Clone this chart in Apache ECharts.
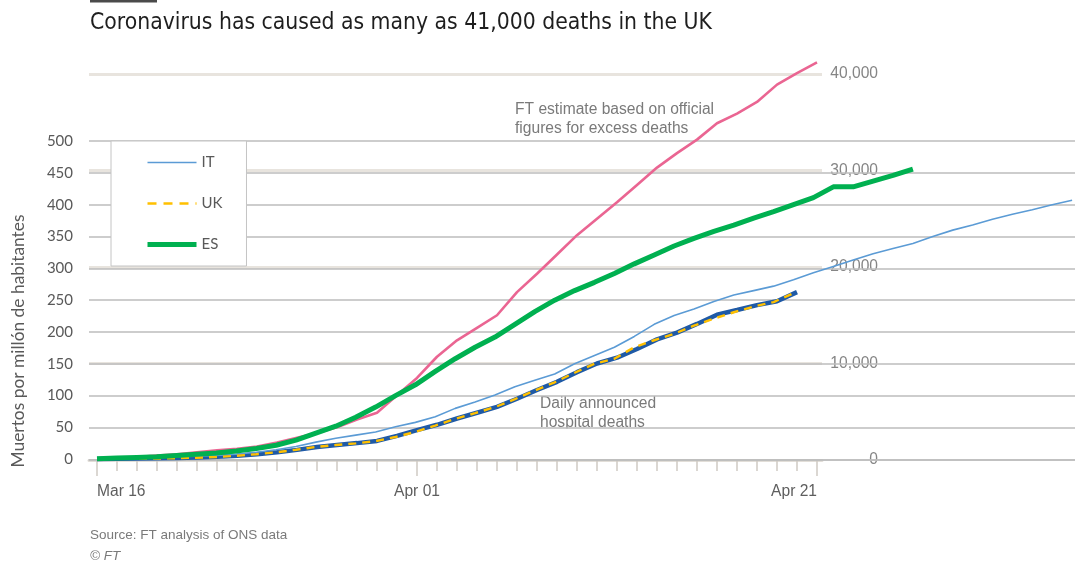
<!DOCTYPE html>
<html><head><meta charset="utf-8">
<script src="https://cdn.jsdelivr.net/npm/echarts@6/dist/echarts.min.js"></script>
<style>html,body{margin:0;padding:0;background:#fff}#c{width:1075px;height:563px}</style>
</head><body><div id="c"></div>
<script>
// ---------- data ----------
const titleText = 'Coronavirus has caused as many as 41,000 deaths in the UK';
const sourceText = 'Source: FT analysis of ONS data';
const copyrightText = '\u00a9 FT';
const yAxisNameES = 'Muertos por millón de habitantes';
const noteEstimate = ['FT estimate based on official', 'figures for excess deaths'];
const noteHospital = ['Daily announced', 'hospital deaths'];

// FT chart: day 0 = Mar 16
const ftTickDays = Array.from({length: 37}, (_, i) => i);
const ftLabelDays = [0, 16, 36];
const ftLabels = ['Mar 16', 'Apr 01', 'Apr 21'];
const ftYTicks = [0, 10000, 20000, 30000, 40000];
const ftEstimate = [100,200,300,450,600,800,1000,1150,1400,1800,2300,2800,3400,4200,4900,6700,8500,10700,12400,13700,15000,17400,19300,21300,23300,25000,26700,28500,30300,31800,33200,34900,35900,37100,38900,40100,41200];
const ftHospital = [100,120,150,170,200,260,330,450,600,800,1050,1350,1550,1750,1980,2500,3100,3650,4300,4900,5500,6350,7250,8100,9100,10000,10600,11500,12500,13200,14100,15050,15540,16050,16450,17400];

// Spanish chart (per million)
const esYTicks = [0,50,100,150,200,250,300,350,400,450,500];
const seriesNames = ['IT', 'UK', 'ES'];
const itPerMillion = [1,1.5,2,3,4,5,6,8,11,15,20,27,33,38,43,51,58,67,80,90,101,114,124,134,150,163,176,193,212,226,236,248,258,265,272,282,293,303,313,323,331,339,350,360,368,377,385,392,400,407];
const ukPerMillion = [0.5,0.8,1,1.3,1.6,2.5,3.5,5.5,8,11,15,19.5,22.5,25,28.5,35,43,53,63.5,72.5,82,94.5,108,121,136,150,158,176,187,197,210,221,231,240,247,261];
const esPerMillion = [1,2,3,4,6,8,10,13,17,22,30,41,52,66,82,100,117,138,158,176,192,212,232,250,265,278,292,307,321,335,347,358,368,379,389,400,411,428,428,437,446,456];

// ---------- helpers ----------
const FT_FONT = '"Liberation Sans", Arial, sans-serif';
const TITLE_FONT = '"Liberation Sans Narrow", "DejaVu Sans Condensed", "Liberation Sans", sans-serif';
const ES_FONT = 'Lato, "Open Sans", sans-serif';
const mctx = document.createElement('canvas').getContext('2d');
function textW(t, size, fam) { mctx.font = size + 'px ' + fam; return mctx.measureText(t).width; }
function fitSize(t, fam, w) { return 100 * w / textW(t, 100, fam); }
const toPairs = arr => arr.map((v, i) => [i, v]);

const titleSize = Math.min(26, fitSize(titleText, TITLE_FONT, 622));
const ftLabelSize = 15.6;
const esNameSize = fitSize(yAxisNameES, ES_FONT, 253);
const esLabelSize = 15;

const FT_PX = 20, ES_PX = 19.9, X0 = 97, GL = 89;

const chart = echarts.init(document.getElementById('c'), null, {renderer: 'canvas'});
const firstW = textW(ftLabels[0], ftLabelSize, FT_FONT);
const lastW = textW(ftLabels[ftLabels.length - 1], ftLabelSize, FT_FONT);

chart.setOption({
  animation: false,
  backgroundColor: '#fff',
  grid: [
    {left: GL, top: 74, width: 733, height: 386},
    {left: GL, top: 141, width: 1075 - GL, height: 318.3}
  ],
  xAxis: [
    { type: 'value', gridIndex: 0, min: (GL - X0) / FT_PX, max: (GL + 733 - X0) / FT_PX, z: 0,
      axisLine: {show: true, lineStyle: {color: '#e2ded8', width: 3}},
      axisTick: {show: true, customValues: ftTickDays, length: 11, lineStyle: {color: '#cfcac4', width: 1.5}},
      axisLabel: {show: true, customValues: ftLabelDays, margin: 24, color: '#5e5e5e',
        fontFamily: FT_FONT, fontSize: ftLabelSize,
        formatter: v => {
          const i = ftLabelDays.indexOf(v);
          if (i === 0) return '{l|' + ftLabels[i] + '}';
          if (i === ftLabels.length - 1) return '{r|' + ftLabels[i] + '}';
          return ftLabels[i];
        },
        rich: {
          l: {padding: [0, 0, 0, firstW], fontFamily: FT_FONT, fontSize: ftLabelSize, color: '#5e5e5e'},
          r: {padding: [0, lastW, 0, 0], fontFamily: FT_FONT, fontSize: ftLabelSize, color: '#5e5e5e'}
        }},
      splitLine: {show: false}
    },
    { type: 'value', gridIndex: 0, position: 'bottom', min: (GL - X0) / FT_PX, max: (GL + 733 - X0) / FT_PX, z: 0,
      axisLine: {show: false},
      axisTick: {show: true, customValues: ftLabelDays, length: 16, lineStyle: {color: '#cfcac4', width: 1.5}},
      axisLabel: {show: false}, splitLine: {show: false}
    },
    { type: 'value', gridIndex: 1, min: (GL - X0) / ES_PX, max: (1075 - X0) / ES_PX, z: 1,
      axisLine: {show: true, lineStyle: {color: '#bdbdbd', width: 1.5}},
      axisTick: {show: false}, axisLabel: {show: false}, splitLine: {show: false}
    }
  ],
  yAxis: [
    { type: 'value', gridIndex: 0, position: 'right', min: 0, max: 40000, interval: 10000, z: 0,
      axisLine: {show: false}, axisTick: {show: false},
      axisLabel: {show: true, align: 'right', margin: 56, color: '#858585', fontFamily: FT_FONT, fontSize: 15.6,
        padding: [4, 0, 0, 0],
        formatter: v => ftYTicks.includes(v) ? v.toLocaleString('en-US') : ''},
      splitLine: {show: true, lineStyle: {color: '#e8e4de', width: 3}}
    },
    { type: 'value', gridIndex: 1, min: 0, max: 500, interval: 50, z: 1,
      axisLine: {show: false}, axisTick: {show: false},
      axisLabel: {show: true, margin: 16, color: '#595959', fontFamily: ES_FONT, fontSize: esLabelSize,
        formatter: v => esYTicks.includes(v) ? String(v) : ''},
      splitLine: {show: true, lineStyle: {color: '#bdbdbd', width: 1.5}}
    }
  ],
  legend: {
    data: [
      {name: 'IT', lineStyle: {width: 1.5}},
      {name: 'UK', lineStyle: {width: 2.5, type: [9, 7]}},
      {name: 'ES', lineStyle: {width: 5}}
    ],
    orient: 'vertical', left: 111, top: 141,
    padding: [14, 24, 14, 34], itemWidth: 49, itemHeight: 14, itemGap: 26,
    backgroundColor: '#fff', borderColor: '#c4c4c4', borderWidth: 1, borderRadius: 0,
    itemStyle: {opacity: 0},
    textStyle: {color: '#595959', fontFamily: ES_FONT, fontSize: esLabelSize},
    selectedMode: false
  },
  series: [
    { name: 'FT estimate', type: 'line', xAxisIndex: 0, yAxisIndex: 0, data: toPairs(ftEstimate), clip: false,
      symbol: 'none', z: 2, lineStyle: {color: '#ea6592', width: 2.6}, itemStyle: {color: '#ea6592'} },
    { name: 'Hospital', type: 'line', xAxisIndex: 0, yAxisIndex: 0, data: toPairs(ftHospital),
      symbol: 'none', z: 3, lineStyle: {color: '#1f5aa6', width: 4.5}, itemStyle: {color: '#1f5aa6'} },
    { name: 'IT', type: 'line', xAxisIndex: 2, yAxisIndex: 1, data: toPairs(itPerMillion),
      symbol: 'none', z: 4, lineStyle: {color: '#5b9bd5', width: 1.6}, itemStyle: {color: '#5b9bd5'} },
    { name: 'UK', type: 'line', xAxisIndex: 2, yAxisIndex: 1, data: toPairs(ukPerMillion),
      symbol: 'none', z: 5, lineStyle: {color: '#ffc000', width: 2.4, type: [8, 6]}, itemStyle: {color: '#ffc000'} },
    { name: 'ES', type: 'line', xAxisIndex: 2, yAxisIndex: 1, data: toPairs(esPerMillion),
      symbol: 'none', z: 6, lineStyle: {color: '#00b050', width: 5}, itemStyle: {color: '#00b050'} }
  ],
  graphic: [
    {type: 'rect', z: 10, shape: {x: 90, y: 0, width: 67, height: 2.5}, style: {fill: '#4a4a4a'}},
    {type: 'text', z: 10, x: 90, y: 23, style: {text: titleText, fontFamily: TITLE_FONT, fontSize: titleSize,
      fill: '#1e1e1e', align: 'left', verticalAlign: 'middle'}},
    {type: 'text', z: 10, x: 90, y: 535, style: {text: sourceText, fontFamily: FT_FONT, fontSize: 13.5,
      fill: '#7a7a7a', align: 'left', verticalAlign: 'middle'}},
    {type: 'text', z: 10, x: 90, y: 556, style: {text: copyrightText, fontFamily: FT_FONT, fontSize: 13.5,
      fontStyle: 'italic', fill: '#7a7a7a', align: 'left', verticalAlign: 'middle'}},
    {type: 'text', z: 10, x: 18, y: 341, rotation: Math.PI / 2, style: {text: yAxisNameES, fontFamily: ES_FONT,
      fontSize: esNameSize, fill: '#595959', align: 'center', verticalAlign: 'middle'}},
    {type: 'text', z: 1, x: 515, y: 110, style: {text: noteEstimate[0], fontFamily: FT_FONT, fontSize: 15.6,
      fill: '#7a7a7a', align: 'left', verticalAlign: 'middle'}},
    {type: 'text', z: 1, x: 515, y: 129, style: {text: noteEstimate[1], fontFamily: FT_FONT, fontSize: 15.6,
      fill: '#7a7a7a', align: 'left', verticalAlign: 'middle'}},
    {type: 'text', z: 1, x: 540, y: 404, style: {text: noteHospital[0], fontFamily: FT_FONT, fontSize: 15.6,
      fill: '#7a7a7a', align: 'left', verticalAlign: 'middle'}},
    {type: 'text', z: 1, x: 540, y: 423, style: {text: noteHospital[1], fontFamily: FT_FONT, fontSize: 15.6,
      fill: '#7a7a7a', align: 'left', verticalAlign: 'middle'}},
    {type: 'rect', z: 1, shape: {x: 535, y: 428.6, width: 130, height: 10}, style: {fill: '#fff'}}
  ]
});
</script>
</body></html>
